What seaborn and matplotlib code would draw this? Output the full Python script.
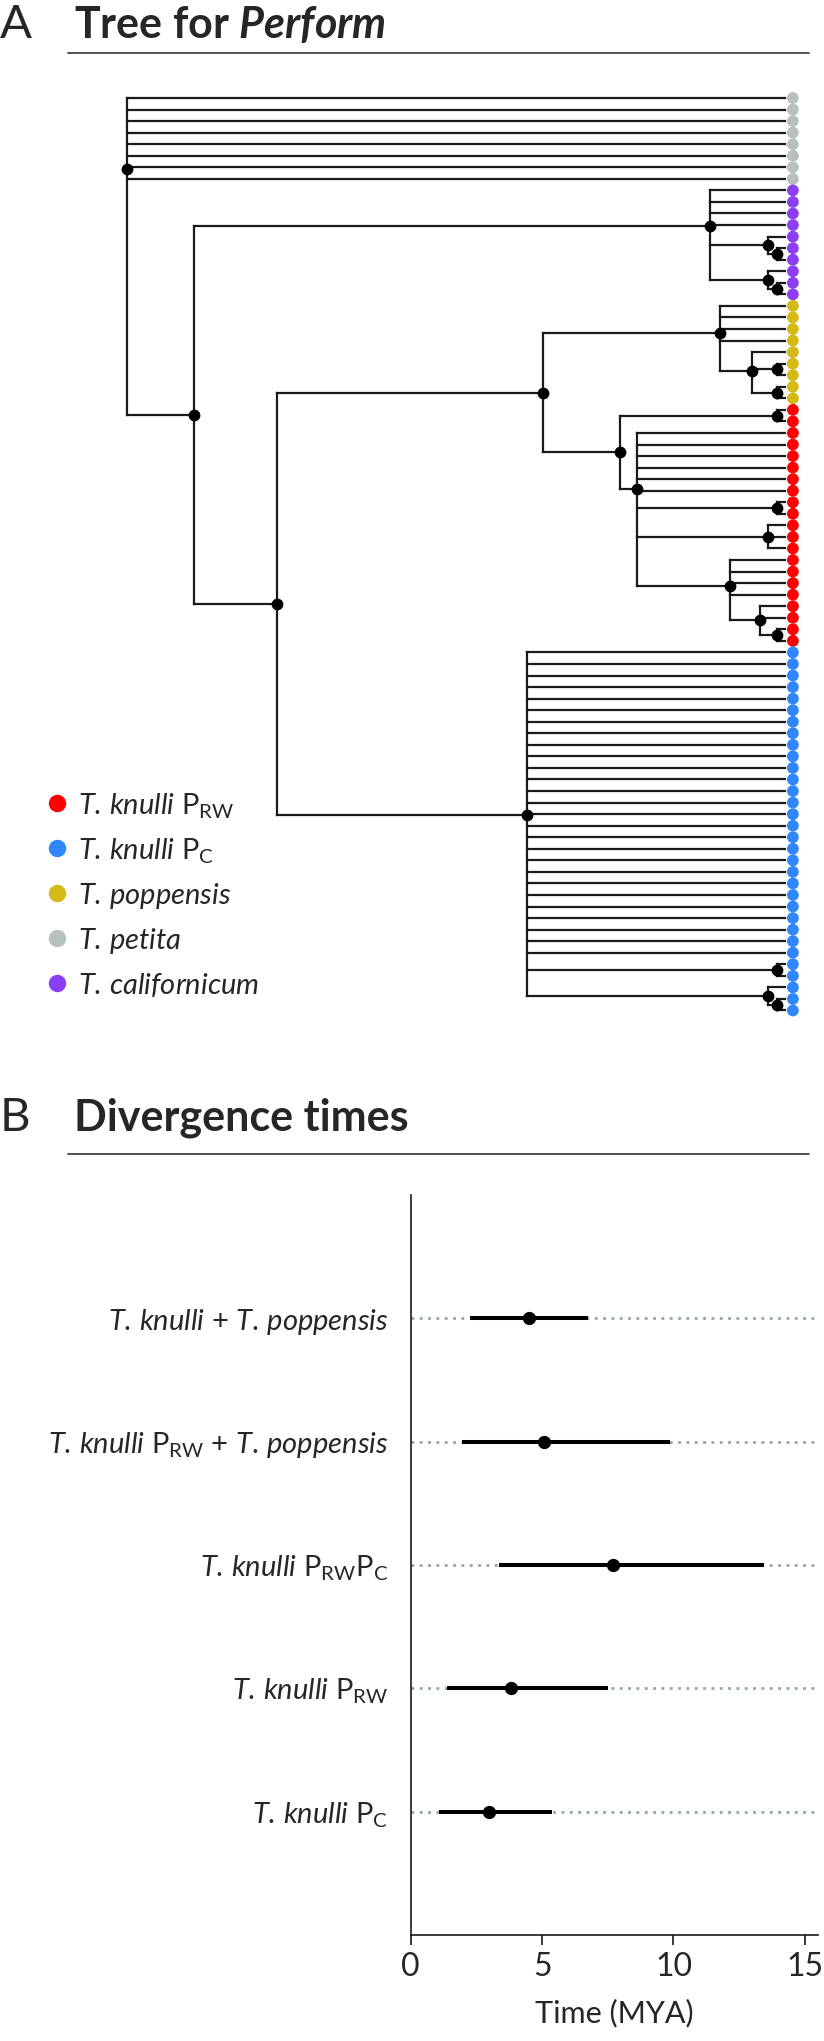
import re
import numpy as np
import pandas as pd
import matplotlib
matplotlib.use("Agg")
import matplotlib.pyplot as plt
from matplotlib.lines import Line2D
from matplotlib.collections import LineCollection
import seaborn as sns

# ---- panel A: tree (tips numbered top to bottom, internal nodes labelled) ----
tree_newick = (
    "(0,1,2,3,4,5,6,7,"
    "((8,9,10,11,(12,(13,14)c)s,(15,(16,17)c)s)pur,"
    "(((18,19,20,21,(22,(23,24)c,(25,26)c)e)yel,"
    "((27,28)c,(29,30,31,32,33,34,(35,36)c,(37,38,39)s,"
    "(40,41,42,43,(44,45,(46,47)c)m)l)i)red)z,"
    "(48,49,50,51,52,53,54,55,56,57,58,59,60,61,62,63,64,65,66,67,68,69,70,"
    "71,72,73,74,(75,76)c,(77,(78,79)c)s)blu)y)x)root"
)
# node heights (tips = 0, root = 100)
node_age = {"root": 100, "x": 89.8, "y": 77.2, "z": 36.8, "blu": 39.2,
            "pur": 11.4, "yel": 9.9, "red": 25.1, "i": 22.5, "l": 8.4,
            "m": 3.8, "e": 5.0, "s": 2.6, "c": 1.2}
tip_groups = ["petita", "californicum", "poppensis", "knulli_PRW", "knulli_PC"]
tip_counts = [8, 10, 9, 21, 32]

legend_order = ["knulli_PRW", "knulli_PC", "poppensis", "petita", "californicum"]
legend_labels = [r"$\mathit{T.\,knulli}$ P$_{\mathrm{RW}}$",
                 r"$\mathit{T.\,knulli}$ P$_{\mathrm{C}}$",
                 r"$\mathit{T.\,poppensis}$",
                 r"$\mathit{T.\,petita}$",
                 r"$\mathit{T.\,californicum}$"]
group_colors = ["#FF0000", "#2F86FF", "#D5B915", "#B6C0BF", "#8A3FF4"]

# ---- panel B: divergence times (MYA) ----
div_labels = [r"$\mathit{T.\,knulli}$ + $\mathit{T.\,poppensis}$",
              r"$\mathit{T.\,knulli}$ P$_{\mathrm{RW}}$ + $\mathit{T.\,poppensis}$",
              r"$\mathit{T.\,knulli}$ P$_{\mathrm{RW}}$P$_{\mathrm{C}}$",
              r"$\mathit{T.\,knulli}$ P$_{\mathrm{RW}}$",
              r"$\mathit{T.\,knulli}$ P$_{\mathrm{C}}$"]
div_mean = [4.51, 5.09, 7.71, 3.80, 2.97]
div_low = [2.24, 1.96, 3.35, 1.39, 1.08]
div_high = [6.73, 9.85, 13.46, 7.51, 5.38]

sns.set_style("ticks")
plt.rcParams["font.family"] = ["Lato", "DejaVu Sans"]
plt.rcParams["mathtext.fontset"] = "custom"
plt.rcParams["mathtext.rm"] = "Lato"
plt.rcParams["mathtext.it"] = "Lato:italic"
plt.rcParams["mathtext.bf"] = "Lato:bold"
plt.rcParams["mathtext.bfit"] = "Lato:bold:italic"

W, H = 824, 2041
fig = plt.figure(figsize=(W / 100, H / 100), dpi=100)


def fx(px):
    return px / W


def fy(py):
    return 1 - py / H


def parse(s):
    pos = 0

    def node():
        nonlocal pos
        if s[pos] == "(":
            pos += 1
            kids = [node()]
            while s[pos] == ",":
                pos += 1
                kids.append(node())
            pos += 1
            m = re.match(r"[a-z]+", s[pos:])
            pos += m.end()
            return (m.group(), kids)
        m = re.match(r"\d+", s[pos:])
        pos += m.end()
        return int(m.group())
    return node()


segs, node_pts = [], []


def layout(n):
    if isinstance(n, int):
        return 0.0, float(n)
    label, kids = n
    pts = [layout(k) for k in kids]
    x = node_age[label]
    ys = [p[1] for p in pts]
    segs.append([(x, min(ys)), (x, max(ys))])
    for cx, cy in pts:
        segs.append([(x, cy), (cx, cy)])
    y = float(np.mean(ys))
    node_pts.append((x, y))
    return x, y


layout(parse(tree_newick))

ax = fig.add_axes([fx(100), fy(1030), fx(710), 950 / H])
ax.add_collection(LineCollection(segs, colors="#1a1a1a", linewidths=1.6,
                                 capstyle="projecting"))
nodes_df = pd.DataFrame(node_pts, columns=["age", "tip"])
sns.scatterplot(data=nodes_df, x="age", y="tip", color="black", s=72,
                linewidth=0, legend=False, ax=ax, zorder=3)
tips_df = pd.DataFrame({"group": np.repeat(tip_groups, tip_counts)})
tips_df["tip"] = np.arange(len(tips_df))
tips_df["age"] = -1.2
sns.scatterplot(data=tips_df, x="age", y="tip", hue="group",
                palette=dict(zip(legend_order, group_colors)), s=72,
                linewidth=0, legend=False, ax=ax, zorder=3)
ax.set_xlim(104.1, -3.8)
ax.set_ylim(80.69, -1.558)
ax.axis("off")

# legend
for i, (lab, col) in enumerate(zip(legend_labels, group_colors)):
    yy = 803 + 45 * i
    fig.add_artist(Line2D([fx(57)], [fy(yy)], marker="o", ms=11.5, color=col,
                          lw=0, transform=fig.transFigure))
    fig.text(fx(78), fy(yy + 11), lab, fontsize=21, va="baseline", ha="left")

# ---- panel B ----
ax2 = fig.add_axes([fx(410.7), fy(1935), (818 - 410.7) / W, 740 / H])
div_df = pd.DataFrame({"label": div_labels, "mean": div_mean,
                       "low": div_low, "high": div_high})
pos = np.arange(len(div_df))
ax2.hlines(pos, 0, 15.5, colors="#93A6A2", linestyles=(0, (1, 2.0)),
           linewidth=2.0, zorder=1)
ax2.hlines(pos, div_df["low"], div_df["high"], colors="black", linewidth=2.9,
           zorder=2)
sns.pointplot(data=div_df, x="mean", y="label", color="black",
              linestyle="none", errorbar=None, markersize=7.5, ax=ax2, zorder=3)
ax2.set_xlim(0, 15.5)
ax2.set_ylim(5, -1)
ax2.set_xticks([0, 5, 10, 15])
ax2.set_xlabel("Time (MYA)", fontsize=22, labelpad=12)
ax2.set_ylabel("")
ax2.tick_params(axis="x", length=7, width=1.2, pad=5, labelsize=23, color="#1a1a1a")
ax2.tick_params(axis="y", length=0, pad=16, labelsize=21)
sns.despine(ax=ax2)
for sp in ["left", "bottom"]:
    ax2.spines[sp].set_linewidth(1.2)
    ax2.spines[sp].set_color("#1a1a1a")

# ---- panel headers ----
for letter, title, base, line_y in [("A", r"Tree for $\mathbfit{Perform}$", 38, 53),
                                    ("B", "Divergence times", 1131, 1154)]:
    fig.text(fx(0), fy(base), letter, fontsize=34, va="baseline", ha="left")
    fig.text(fx(74), fy(base), title, fontsize=31, fontweight="bold",
             va="baseline", ha="left")
    fig.add_artist(Line2D([fx(68), fx(809)], [fy(line_y), fy(line_y)], lw=1.2,
                          color="#333333", transform=fig.transFigure))

fig.savefig("out.png", dpi=100)
